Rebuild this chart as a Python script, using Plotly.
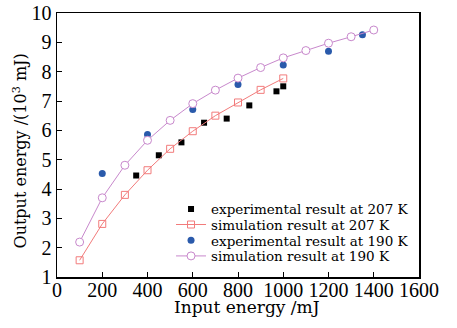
import plotly.graph_objects as go

# Data
exp207_x = [350, 450, 550, 650, 750, 850, 970, 1000]
exp207_y = [4.46, 5.15, 5.59, 6.26, 6.40, 6.85, 7.33, 7.50]

sim207_x = [100, 200, 300, 400, 500, 600, 700, 800, 900, 1000]
sim207_y = [1.57, 2.81, 3.80, 4.64, 5.37, 5.97, 6.50, 6.95, 7.38, 7.77]

exp190_x = [200, 400, 600, 800, 1000, 1200, 1350, 1400]
exp190_y = [4.53, 5.86, 6.71, 7.56, 8.23, 8.70, 9.26, 9.42]

sim190_x = [100, 200, 300, 400, 500, 600, 700, 800, 900, 1000, 1100, 1200, 1300, 1400]
sim190_y = [2.19, 3.70, 4.81, 5.66, 6.34, 6.91, 7.37, 7.78, 8.14, 8.47, 8.72, 8.97, 9.19, 9.42]

x_ticks = [0, 200, 400, 600, 800, 1000, 1200, 1400, 1600]
y_ticks = [1, 2, 3, 4, 5, 6, 7, 8, 9, 10]

FONT = "DejaVu Serif"
TICKFONT = "Liberation Serif"
RED = "#f27b7b"
PURPLE = "#c888cc"
BLUE = "#2a5aab"

fig = go.Figure()
fig.add_trace(go.Scatter(
    x=exp207_x, y=exp207_y, mode="markers",
    name="experimental result at 207 K", legend="legend",
    marker=dict(symbol="square", size=6, color="black"),
))
fig.add_trace(go.Scatter(
    x=sim207_x, y=sim207_y, mode="lines+markers",
    name="simulation result at 207 K", legend="legend2",
    line=dict(color=RED, width=1),
    marker=dict(symbol="square-open", size=7, color=RED, line=dict(width=1)),
))
fig.add_trace(go.Scatter(
    x=exp190_x, y=exp190_y, mode="markers",
    name="experimental result at 190 K", legend="legend3",
    marker=dict(symbol="circle", size=7, color=BLUE),
))
fig.add_trace(go.Scatter(
    x=sim190_x, y=sim190_y, mode="lines+markers",
    name="simulation result at 190 K", legend="legend4",
    line=dict(color=PURPLE, width=1),
    marker=dict(symbol="circle", size=8, color="white", line=dict(color=PURPLE, width=1)),
))

leg_common = dict(
    x=0.315, xanchor="left", yanchor="middle",
    bgcolor="rgba(0,0,0,0)", borderwidth=0,
    font=dict(family=FONT, size=13.5, color="black"),
    itemwidth=30,
)
row_y = [0.257, 0.198, 0.138, 0.079]

fig.update_layout(
    width=457, height=328,
    margin=dict(l=57, r=38, t=12.5, b=50.5, autoexpand=False),
    paper_bgcolor="white", plot_bgcolor="white",
    font=dict(family=FONT, color="black", size=16),
    showlegend=True,
    legend=dict(leg_common, y=row_y[0]),
    legend2=dict(leg_common, y=row_y[1]),
    legend3=dict(leg_common, y=row_y[2]),
    legend4=dict(leg_common, y=row_y[3]),
    xaxis=dict(
        range=[0, 1600], tickvals=x_ticks, ticktext=[str(v) for v in x_ticks],
        showgrid=False, zeroline=False, automargin=False,
        showline=True, linecolor="black", linewidth=1.5, mirror=True,
        ticks="inside", ticklen=5, tickcolor="black",
        tickfont=dict(family=TICKFONT, size=20),
        ticklabeloverflow="allow", ticklabelstandoff=-6,
    ),
    yaxis=dict(
        range=[1, 10], tickvals=y_ticks, ticktext=[str(v) for v in y_ticks],
        showgrid=False, zeroline=False, automargin=False,
        showline=True, linecolor="black", linewidth=1.5, mirror=True,
        ticks="inside", ticklen=5, tickcolor="black",
        tickfont=dict(family=TICKFONT, size=20),
        ticklabeloverflow="allow",
    ),
    annotations=[
        dict(text="Input energy /mJ", xref="paper", yref="paper",
             x=(247 - 57) / 362, y=(277.5 - 308) / 265,
             xanchor="center", yanchor="middle", showarrow=False,
             font=dict(family=FONT, size=17, color="black")),
        dict(text="Output energy /(10<sup>3</sup> mJ)", xref="paper", yref="paper",
             x=(20.5 - 57) / 362, y=(277.5 - 151) / 265, textangle=-90,
             xanchor="center", yanchor="middle", showarrow=False,
             font=dict(family=FONT, size=16, color="black")),
    ],
)

fig.write_html(
    "out.html",
    config={"displayModeBar": False, "staticPlot": True},
    post_script="document.body.style.margin='0';document.body.style.overflow='hidden';",
)
